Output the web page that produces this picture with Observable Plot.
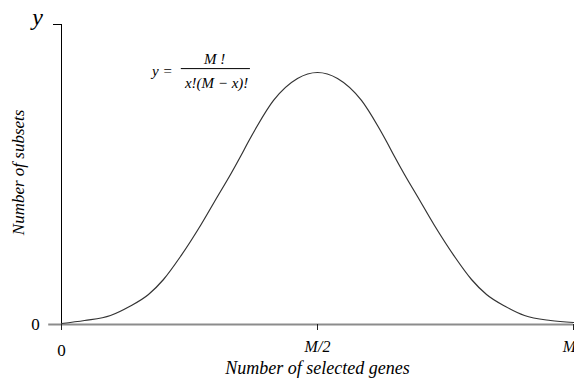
<!DOCTYPE html>
<html>
<head>
<meta charset="utf-8">
<script src="https://cdn.jsdelivr.net/npm/d3@7"></script>
<script src="https://cdn.jsdelivr.net/npm/@observablehq/plot@0.6"></script>
<style>
  html, body { margin: 0; padding: 0; background: #fff; }
  #chart svg { display: block; }
</style>
</head>
<body>
<div id="chart"></div>
<script>
// Number of selected genes, as a fraction of M (0 … 1)
const fraction = [0, 0.0449, 0.0957, 0.1328, 0.1699, 0.1992, 0.2324, 0.2715, 0.3047,
                  0.3301, 0.3496, 0.3652, 0.3828, 0.4141, 0.4609, 0.5,
                  0.5391, 0.5859, 0.6172, 0.6348, 0.6504, 0.6699, 0.6953, 0.7285,
                  0.7676, 0.8008, 0.8301, 0.8672, 0.9043, 0.9551, 1.0];
// Relative number of subsets of that size
const subsets = [0.0033, 0.0133, 0.03, 0.06, 0.10, 0.15, 0.2267, 0.33, 0.4267,
                 0.50, 0.56, 0.61, 0.6633, 0.7467, 0.82, 0.84,
                 0.82, 0.7467, 0.6633, 0.61, 0.56, 0.50, 0.4267, 0.33,
                 0.2267, 0.15, 0.10, 0.06, 0.03, 0.0133, 0.0067];

// Axis tick labels
const xTickValues = [0, 0.5, 1];
const xTickLabels = ["0", "M/2", "M"];
const yTickValues = [0, 1];

const curve = fraction.map((t, i) => ({t, n: subsets[i]}));
const xTicks = xTickValues.map((v, i) => ({v, label: xTickLabels[i]}));

const serif = "'Liberation Serif', 'DejaVu Serif', serif";

const chart = Plot.plot({
  width: 574,
  height: 379,
  marginLeft: 61,
  marginRight: 1,
  marginTop: 24,
  marginBottom: 55,
  style: {fontFamily: serif, background: "#fff", overflow: "visible"},
  x: {type: "linear", domain: [0, 1], axis: null},
  y: {type: "linear", domain: [0, 1], axis: null},
  marks: [
    // vertical axis
    Plot.ruleX([0], {y1: 0, y2: 1, stroke: "#000", strokeWidth: 1}),
    Plot.axisY({ticks: yTickValues, tickSize: 8, tickFormat: () => "", label: null, stroke: "#000"}),
    // horizontal axis
    Plot.ruleY([0], {x1: -0.025, x2: 1, stroke: "#8c8c8c", strokeWidth: 2}),
    Plot.axisX({ticks: xTickValues, tickSize: 6, tickFormat: () => "", label: null, stroke: "#222"}),
    // tick labels
    Plot.text(xTicks.filter(d => d.label === "0"), {x: "v", y: 0, text: "label", dy: 26, fontSize: 17, fill: "#000"}),
    Plot.text(xTicks.filter(d => d.label === "M/2"), {x: "v", y: 0, text: "label", dy: 22, fontSize: 16, fontStyle: "italic", fill: "#000"}),
    Plot.text(xTicks.filter(d => d.label === "M"), {x: "v", y: 0, text: "label", dx: -4, dy: 22, fontSize: 16, fontStyle: "italic", fill: "#000"}),
    Plot.text(["0"], {x: 0, y: 0, text: d => d, dx: -26, fontSize: 17, fill: "#000"}),
    // axis titles
    Plot.text(["y"], {x: 0, y: 1, text: d => d, dx: -24, dy: -7, fontSize: 24, fontStyle: "italic", fill: "#000"}),
    Plot.text(["Number of subsets"], {frameAnchor: "left", textAnchor: "middle", y: 0.507, dx: -43, rotate: -90,
      text: d => d, fontSize: 17, fontStyle: "italic", fill: "#000"}),
    Plot.text(["Number of selected genes"], {x: 0.5, y: 0, dy: 44, text: d => d,
      fontSize: 18, fontStyle: "italic", fill: "#000"}),
    // formula  y = M! / (x!(M − x)!)
    Plot.text(["y ="], {x: 0.197, y: 0.843, text: d => d, fontSize: 15, fontStyle: "italic", fill: "#000"}),
    Plot.text(["M !"], {x: 0.299, y: 0.883, text: d => d, fontSize: 15, fontStyle: "italic", fill: "#000"}),
    Plot.ruleY([0.853], {x1: 0.234, x2: 0.369, stroke: "#000", strokeWidth: 1}),
    Plot.text(["x!(M − x)!"], {x: 0.303, y: 0.805, text: d => d, fontSize: 15, fontStyle: "italic", fill: "#000"}),
    // distribution curve
    Plot.line(curve, {x: "t", y: "n", curve: "monotone-x", stroke: "#333", strokeWidth: 1.2})
  ]
});

document.getElementById("chart").appendChild(chart);
</script>
</body>
</html>
